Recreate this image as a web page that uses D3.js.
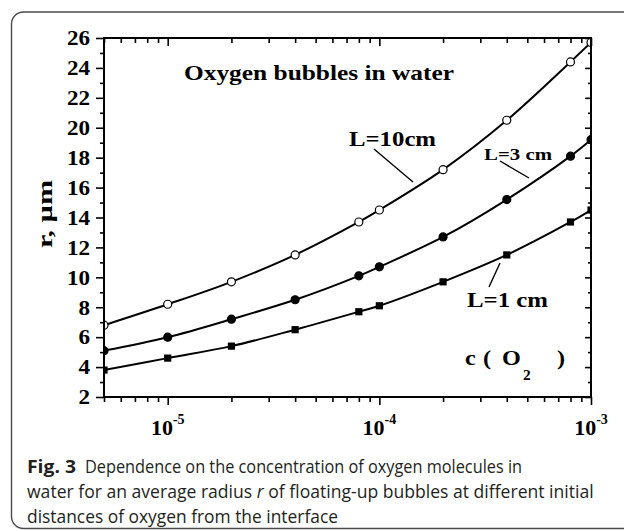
<!DOCTYPE html>
<html>
<head>
<meta charset="utf-8">
<script src="https://cdn.jsdelivr.net/npm/d3@7"></script>
<style>
  html, body { margin: 0; padding: 0; background: #fff; }
  svg { display: block; }
</style>
</head>
<body>
<svg id="chart" width="624" height="530"></svg>
<script>
// ---------------- data ----------------
const concentrations = [5e-6, 1e-5, 2e-5, 4e-5, 8e-5, 1e-4, 2e-4, 4e-4, 8e-4, 1e-3];
const radiusL10 = [6.8, 8.2, 9.7, 11.5, 13.7, 14.5, 17.2, 20.5, 24.4, 25.7];
const radiusL3  = [5.1, 6.0, 7.2, 8.5, 10.1, 10.7, 12.7, 15.2, 18.1, 19.2];
const radiusL1  = [3.8, 4.6, 5.4, 6.5, 7.7, 8.1, 9.7, 11.5, 13.7, 14.5];
const yTickValues = [2, 4, 6, 8, 10, 12, 14, 16, 18, 20, 22, 24, 26];
const xMajorExponents = [-5, -4, -3];
const seriesLabels = ["L=10cm", "L=3 cm", "L=1 cm"];
const chartTitle = "Oxygen bubbles in water";
const captionLines = [
  "Dependence on the concentration of oxygen molecules in",
  ["water for an average radius ", "r", " of floating-up bubbles at different initial"],
  "distances of oxygen from the interface"
];

// ---------------- setup ----------------
const svg = d3.select("#chart");
const SERIF = "'Liberation Serif','Times New Roman',Times,serif";
const SANS = "'Open Sans','Noto Sans',sans-serif";

// outer rounded frame
svg.append("rect")
  .attr("x", 11.5).attr("y", 12).attr("width", 650).attr("height", 516.5)
  .attr("rx", 12).attr("ry", 12)
  .attr("fill", "none").attr("stroke", "#4a4a4a").attr("stroke-width", 1.4);

const plot = { left: 104, right: 591, top: 38, bottom: 397 };
const x = d3.scaleLog().domain([5e-6, 1e-3]).range([plot.left, plot.right]);
const y = d3.scaleLinear().domain([2, 26]).range([plot.bottom, plot.top]);

// tick value sets
const xMajor = xMajorExponents.map(e => Math.pow(10, e));
const xMinor = [];
for (let e = -6; e <= -4; e++) {
  for (let m = 2; m <= 9; m++) {
    const v = m * Math.pow(10, e);
    if (v >= 5e-6 - 1e-12 && v <= 1e-3) xMinor.push(v);
  }
}
const yMinor = d3.range(3, 26, 2);

function styleAxis(g) {
  g.select(".domain").remove();
  g.selectAll(".tick line").attr("stroke", "#000").attr("stroke-width", 1.6);
  g.selectAll(".tick text").remove();
}

// bottom (outward)
svg.append("g").attr("transform", `translate(0,${plot.bottom})`)
  .call(d3.axisBottom(x).tickValues(xMinor).tickSize(5).tickSizeOuter(0).tickFormat(""))
  .call(styleAxis);
svg.append("g").attr("transform", `translate(0,${plot.bottom})`)
  .call(d3.axisBottom(x).tickValues(xMajor).tickSize(8).tickSizeOuter(0).tickFormat(""))
  .call(styleAxis);
// top (inward)
svg.append("g").attr("transform", `translate(0,${plot.top})`)
  .call(d3.axisTop(x).tickValues(xMinor).tickSize(-5).tickSizeOuter(0).tickFormat(""))
  .call(styleAxis);
svg.append("g").attr("transform", `translate(0,${plot.top})`)
  .call(d3.axisTop(x).tickValues(xMajor).tickSize(-8).tickSizeOuter(0).tickFormat(""))
  .call(styleAxis);
// left (outward)
svg.append("g").attr("transform", `translate(${plot.left},0)`)
  .call(d3.axisLeft(y).tickValues(yMinor).tickSize(4).tickSizeOuter(0).tickFormat(""))
  .call(styleAxis);
svg.append("g").attr("transform", `translate(${plot.left},0)`)
  .call(d3.axisLeft(y).tickValues(yTickValues).tickSize(8).tickSizeOuter(0).tickFormat(""))
  .call(styleAxis);
// right (inward)
svg.append("g").attr("transform", `translate(${plot.right},0)`)
  .call(d3.axisRight(y).tickValues(yMinor).tickSize(-3).tickSizeOuter(0).tickFormat(""))
  .call(styleAxis);
svg.append("g").attr("transform", `translate(${plot.right},0)`)
  .call(d3.axisRight(y).tickValues(yTickValues).tickSize(-6).tickSizeOuter(0).tickFormat(""))
  .call(styleAxis);

// y tick labels
yTickValues.forEach(v => {
  svg.append("g")
    .attr("transform", `translate(90,${y(v) + 7.3}) scale(1.1,1)`)
    .append("text")
    .attr("font-family", SERIF).attr("font-weight", "bold").attr("font-size", 21)
    .attr("text-anchor", "end").attr("fill", "#000")
    .text(v);
});

// x tick labels 10^e
xMajorExponents.forEach(e => {
  const t = svg.append("text")
    .attr("x", x(Math.pow(10, e))).attr("y", 435)
    .attr("font-family", SERIF).attr("font-weight", "bold").attr("font-size", 22)
    .attr("text-anchor", "middle").attr("fill", "#000");
  t.append("tspan").text("10");
  t.append("tspan").attr("font-size", 14).attr("dy", -11).text(String(e));
});

// clip
svg.append("clipPath").attr("id", "plotclip")
  .append("rect").attr("x", plot.left).attr("y", plot.top)
  .attr("width", plot.right - plot.left).attr("height", plot.bottom - plot.top);

const series = [
  { values: radiusL10, marker: "openCircle" },
  { values: radiusL3, marker: "filledCircle" },
  { values: radiusL1, marker: "square" }
];

const line = d3.line()
  .x(d => x(d[0])).y(d => y(d[1]))
  .curve(d3.curveCatmullRom.alpha(0.5));

const plotG = svg.append("g").attr("clip-path", "url(#plotclip)");

series.forEach(s => {
  const pts = concentrations.map((c, i) => [c, s.values[i]]);
  plotG.append("path").datum(pts)
    .attr("d", line).attr("fill", "none")
    .attr("stroke", "#000").attr("stroke-width", 2);
  if (s.marker === "square") {
    plotG.selectAll(null).data(pts).enter().append("rect")
      .attr("x", d => x(d[0]) - 3.6).attr("y", d => y(d[1]) - 3.6)
      .attr("width", 7.2).attr("height", 7.2).attr("fill", "#000");
  } else {
    plotG.selectAll(null).data(pts).enter().append("circle")
      .attr("cx", d => x(d[0])).attr("cy", d => y(d[1])).attr("r", 4)
      .attr("fill", s.marker === "openCircle" ? "#fff" : "#000")
      .attr("stroke", "#000").attr("stroke-width", 1.2);
  }
});

// plot frame
svg.append("rect")
  .attr("x", plot.left).attr("y", plot.top)
  .attr("width", plot.right - plot.left).attr("height", plot.bottom - plot.top)
  .attr("fill", "none").attr("stroke", "#000").attr("stroke-width", 2);

// annotations
function serifText(xp, yp, str, size, len) {
  return svg.append("text")
    .attr("x", xp).attr("y", yp)
    .attr("font-family", SERIF).attr("font-weight", "bold").attr("font-size", size)
    .attr("fill", "#000")
    .attr("textLength", len).attr("lengthAdjust", "spacingAndGlyphs")
    .text(str);
}
serifText(184, 80, chartTitle, 22, 270);
serifText(349, 146, seriesLabels[0], 21.5, 87);
serifText(484, 159.5, seriesLabels[1], 17.5, 68);
serifText(467, 306.5, seriesLabels[2], 22, 81);

// leader lines
const leaders = [[374, 149, 413, 182], [500, 161, 529, 178], [500, 263, 489, 287]];
leaders.forEach(l => {
  svg.append("line").attr("x1", l[0]).attr("y1", l[1]).attr("x2", l[2]).attr("y2", l[3])
    .attr("stroke", "#000").attr("stroke-width", 1.4);
});

// x-axis title c ( O2 )
const xt = [["c", 465, 22, 365], ["(", 483, 22, 365], ["O", 502, 22, 365], ["2", 523, 14, 380], [")", 557, 22, 365]];
xt.forEach(p => {
  svg.append("g").attr("transform", `translate(${p[1]},${p[3]}) scale(1.1,1)`)
    .append("text")
    .attr("font-family", SERIF).attr("font-weight", "bold").attr("font-size", p[2])
    .attr("fill", "#000").text(p[0]);
});

// y-axis title
svg.append("text")
  .attr("transform", "translate(52,248) rotate(-90)")
  .attr("font-family", SERIF).attr("font-weight", "bold").attr("font-size", 22)
  .attr("fill", "#000")
  .attr("textLength", 68).attr("lengthAdjust", "spacingAndGlyphs")
  .text("r, \u00B5m");

// caption
const capColor = "#231f20";
function capText(xp, yp, str, opts = {}) {
  return svg.append("text").attr("x", xp).attr("y", yp)
    .attr("font-family", SANS).attr("font-size", 18)
    .attr("font-weight", opts.bold ? "bold" : "normal")
    .attr("fill", capColor)
    .text(str);
}
capText(27, 473, "Fig. 3", { bold: true }).attr("textLength", 49).attr("lengthAdjust", "spacingAndGlyphs");
capText(85, 473, captionLines[0]).attr("textLength", 437).attr("lengthAdjust", "spacingAndGlyphs");

// line 2: single text element with an italic tspan, scaled horizontally to span 27..594
const l2g = svg.append("g");
const l2 = l2g.append("text").attr("x", 0).attr("y", 0)
  .attr("font-family", SANS).attr("font-size", 18).attr("fill", capColor);
l2.append("tspan").text(captionLines[1][0]);
l2.append("tspan").attr("font-style", "italic").text(captionLines[1][1]);
l2.append("tspan").text(captionLines[1][2]);
const l2w = l2.node().getComputedTextLength();
l2g.attr("transform", `translate(27,498) scale(${567 / l2w},1)`);

capText(27, 523, captionLines[2]).attr("textLength", 311).attr("lengthAdjust", "spacingAndGlyphs");
</script>
</body>
</html>
